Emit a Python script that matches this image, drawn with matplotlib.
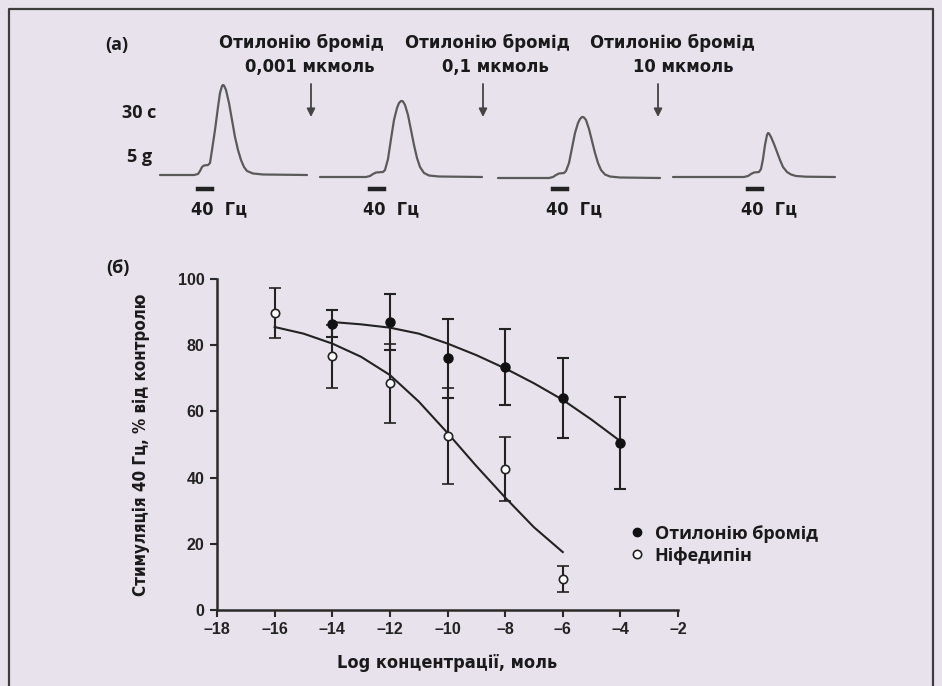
import numpy as np
import matplotlib.pyplot as plt
from matplotlib.lines import Line2D

plt.rcParams['font.family'] = ['DejaVu Sans']
plt.rcParams['font.stretch'] = 'condensed'
plt.rcParams['font.weight'] = 'bold'

# ---- panel (b): dose-response ----
x_otil = [-14, -12, -10, -8, -6, -4]
otil_mean = [86.5, 87, 76, 73.5, 64, 50.5]
otil_err = [4, 8.5, 12, 11.5, 12, 14]

x_nif = [-16, -14, -12, -10, -8, -6]
nif_mean = [89.7, 76.6, 68.5, 52.5, 42.6, 9.4]
nif_err = [7.5, 9.5, 12, 14.5, 9.7, 4]

fit_x_otil = [-14, -13, -12, -11, -10, -9, -8, -7, -6, -5, -4]
fit_otil = [87, 86.3, 85.3, 83.5, 80.5, 77, 73, 68.5, 63.5, 57.5, 51]
fit_x_nif = [-16, -15, -14, -13, -12, -11, -10, -9, -8, -7, -6]
fit_nif = [85.5, 83.5, 80.5, 76.5, 71, 63, 53.5, 43.5, 34, 25, 17.5]

x_ticks = [-18, -16, -14, -12, -10, -8, -6, -4, -2]
y_ticks = [0, 20, 40, 60, 80, 100]

# ---- panel (a): force traces (time rel. to stimulus onset, force above baseline) ----
t1 = [-38, -4, 0, 2, 4, 6, 10, 12, 14, 17, 20, 22, 24, 25, 26, 28, 31, 34, 37, 40, 43, 46, 49, 55, 65, 109]
f1 = [0, 0, 1, 4, 8, 9.5, 10, 12, 25, 45, 68, 82, 89, 90, 89.5, 85, 72, 55, 38, 25, 15, 8, 4, 1.5, 0.5, 0]
t2 = [-50, -4, 0, 3, 6, 13, 15, 18, 21, 24, 27, 29, 31, 32, 33, 35, 38, 41, 44, 47, 50, 54, 59, 69, 112]
f2 = [0, 0, 1, 3, 4.5, 5, 7, 18, 38, 57, 69, 74, 76, 76, 75.5, 72, 62, 47, 32, 19, 10, 4, 1.5, 0.5, 0]
t3 = [-55, -4, 0, 3, 6, 11, 13, 16, 19, 22, 25, 27, 29, 30, 31, 33, 36, 39, 42, 45, 48, 52, 57, 67, 107]
f3 = [0, 0, 1, 3, 4.5, 5, 7, 15, 30, 45, 55, 59, 61, 61, 60.5, 58, 49, 37, 25, 15, 8, 3.5, 1.5, 0.5, 0]
t4 = [-75, -4, 0, 3, 6, 11, 13, 15, 17, 19, 20, 21, 23, 26, 29, 32, 35, 39, 43, 48, 58, 87]
f4 = [0, 0, 1, 3, 4.5, 5, 8, 18, 32, 42, 44, 43.5, 40, 33, 25, 17, 10, 5, 2.5, 1, 0.3, 0]
stim_len = 14

drug = 'Отилонію бромід'
doses = ['0,001 мкмоль', '0,1 мкмоль', '10 мкмоль']
stim_label = '40  Гц'

fig = plt.figure(figsize=(9.42, 6.86), dpi=100)
fig.patch.set_facecolor('#e7e2ec')

# full-figure canvas in pixel units for panel (a) and frame
ax_a = fig.add_axes([0, 0, 1, 1], zorder=0)
ax_a.set_xlim(0, 942)
ax_a.set_ylim(686, 0)
ax_a.axis('off')

ax_a.plot([9, 9, 933, 933], [690, 9, 9, 690], color='#3d3d3d', lw=1.6)

onsets = [198, 370, 553, 748]
baselines = [175, 177, 178, 177]
trace_col = '#5a5a5a'
txt_col = '#1a1a1a'
for (t, f), x0, yb in zip([(t1, f1), (t2, f2), (t3, f3), (t4, f4)], onsets, baselines):
    ax_a.plot(np.array(t) + x0, yb - np.array(f), color=trace_col, lw=1.6,
              solid_capstyle='round', solid_joinstyle='round')
    ax_a.plot([x0, x0 + stim_len], [189, 189], color='#222222', lw=3.2)
    ax_a.text(x0 - 7, 209, stim_label, ha='left', va='center', fontsize=13,
              color=txt_col)

head_x = [301, 487, 672]
dose_x = [310, 495, 683]
arrow_x = [311, 483, 658]
for hx, dx, ax_, d in zip(head_x, dose_x, arrow_x, doses):
    ax_a.text(hx, 43, drug, ha='center', va='center', fontsize=13.2, color=txt_col)
    ax_a.text(dx, 67, d, ha='center', va='center', fontsize=13.2, color=txt_col)
    ax_a.annotate('', xy=(ax_, 117), xytext=(ax_, 84),
                  arrowprops=dict(arrowstyle='-|>', color='#444444', lw=1.3,
                                  mutation_scale=12, shrinkA=0, shrinkB=0))

futura = dict(family=['Open Sans', 'DejaVu Sans'], stretch='normal')
ax_a.text(105, 45, '(а)', ha='left', va='center', fontsize=13, color=txt_col, **futura)
ax_a.text(122, 113, '30 с', ha='left', va='center', fontsize=13, color=txt_col, **futura)
ax_a.text(127, 157, '5 g', ha='left', va='center', fontsize=13, color=txt_col, **futura)
ax_a.text(106, 268, '(б)', ha='left', va='center', fontsize=13, color=txt_col, **futura)

# ---- panel (b) axes ----
ax = fig.add_axes([217 / 942, 76 / 686, 461 / 942, 331 / 686], zorder=1)
ax.patch.set_alpha(0)
ax.set_xlim(-18, -2)
ax.set_ylim(0, 100)

ink = '#222222'
ax.plot(fit_x_otil, fit_otil, color=ink, lw=1.5, zorder=2)
ax.plot(fit_x_nif, fit_nif, color=ink, lw=1.5, zorder=2)
ax.errorbar(x_otil, otil_mean, yerr=otil_err, fmt='o', color=ink, ms=6.5,
            mfc='#111111', mec='#111111', ecolor=ink, elinewidth=1.5,
            capsize=4.5, capthick=1.5, zorder=3)
ax.errorbar(x_nif, nif_mean, yerr=nif_err, fmt='o', color=ink, ms=6,
            mfc='white', mec='#222222', mew=1.2, ecolor=ink, elinewidth=1.5,
            capsize=4.5, capthick=1.5, zorder=3)

for s in ['top', 'right']:
    ax.spines[s].set_visible(False)
for s in ['left', 'bottom']:
    ax.spines[s].set_linewidth(1.8)
    ax.spines[s].set_color('#2a2a2a')
ax.set_xticks(x_ticks)
ax.set_yticks(y_ticks)
ax.set_xticklabels([str(v).replace('-', '–') for v in x_ticks])
ax.tick_params(direction='out', length=5, width=1.5, color='#2a2a2a',
               labelsize=11.5, labelcolor='#222222', pad=4)
for lab in ax.get_xticklabels() + ax.get_yticklabels():
    lab.set_family(['Liberation Sans', 'DejaVu Sans'])
    lab.set_fontstretch('normal')
    lab.set_fontweight('bold')

ax.set_xlabel('Log концентрації, моль', fontsize=13, fontweight='bold',
              color=txt_col, labelpad=12)
ax.set_ylabel('Стимуляція 40 Гц, % від контролю', fontsize=12.2, fontweight='bold',
              color=txt_col, labelpad=20)

handles = [Line2D([], [], ls='none', marker='o', ms=6, mfc='#111111', mec='#111111'),
           Line2D([], [], ls='none', marker='o', ms=6, mfc='white', mec='#222222', mew=1.2)]
leg = ax.legend(handles, [drug, 'Ніфедипін'], loc='upper left',
                bbox_to_anchor=(0.895, 0.258), frameon=False, handlelength=0.8,
                handletextpad=0.6, labelspacing=0.22, borderpad=0, borderaxespad=0,
                prop={'family': ['Open Sans', 'DejaVu Sans'], 'weight': 'bold',
                      'stretch': 'normal', 'size': 13})
for txt in leg.get_texts():
    txt.set_color(txt_col)

fig.savefig('out.png', dpi=100, facecolor=fig.get_facecolor())
